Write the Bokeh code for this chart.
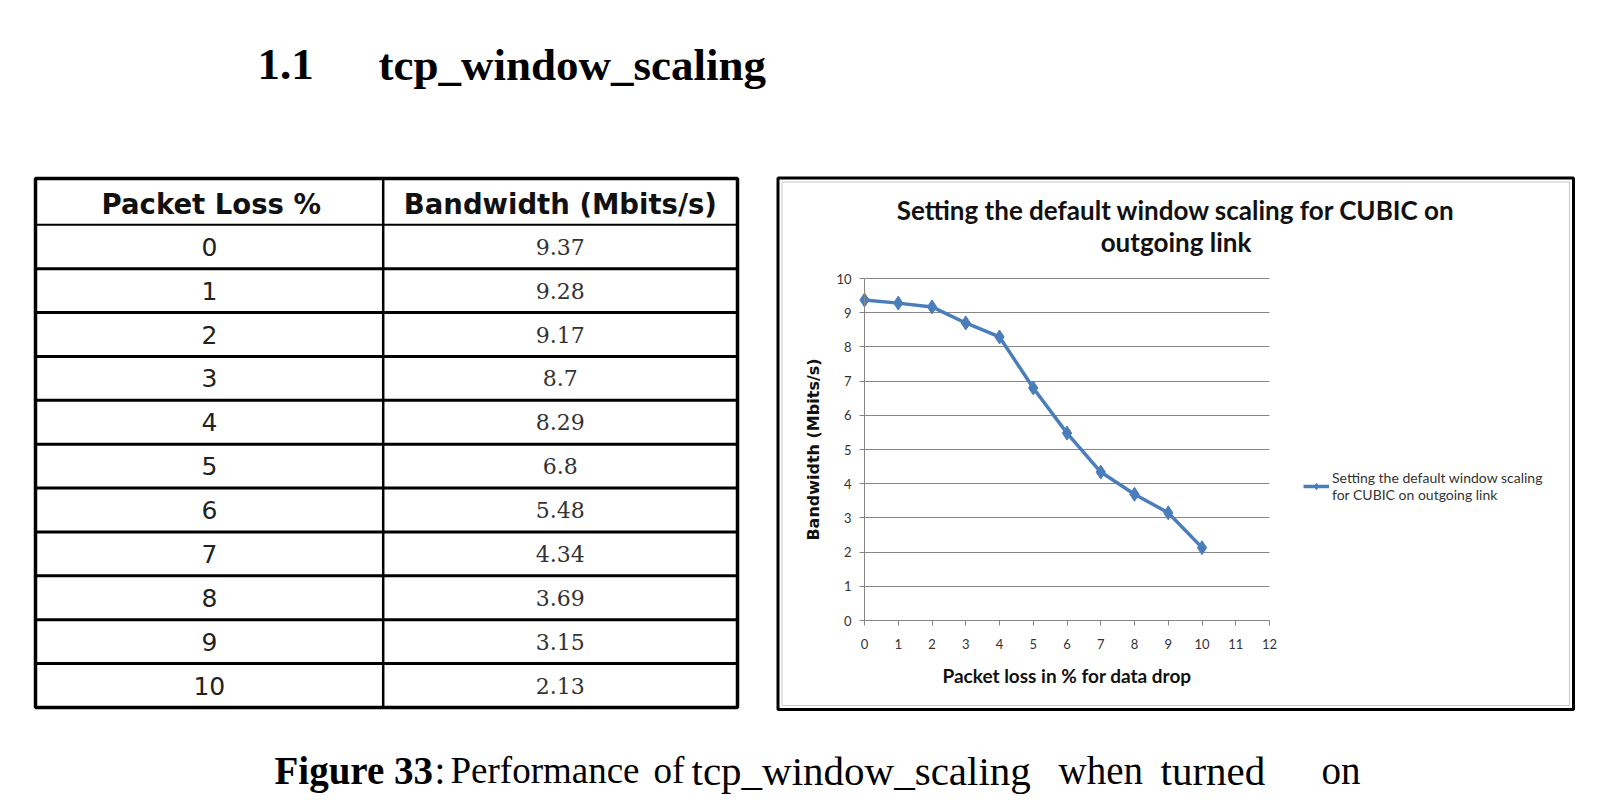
from bokeh.plotting import figure
from bokeh.models import Range1d, Legend, LegendItem, FixedTicker
from bokeh.core.properties import value
from bokeh.embed import file_html
from bokeh.resources import INLINE

# ---------------- data ----------------
packet_loss = [0, 1, 2, 3, 4, 5, 6, 7, 8, 9, 10]
bandwidth = [9.37, 9.28, 9.17, 8.7, 8.29, 6.8, 5.48, 4.34, 3.69, 3.15, 2.13]
x_ticks = list(range(0, 13))
y_ticks = list(range(0, 11))
table_headers = ["Packet Loss %", "Bandwidth (Mbits/s)"]
chart_title = ["Setting the default window scaling for CUBIC on", "outgoing link"]
series_name = "Setting the default window scaling\nfor CUBIC on outgoing link"
x_title = "Packet loss in % for data drop"
y_title = "Bandwidth (Mbits/s)"
heading_parts = ["1.1", "tcp_window_scaling"]
caption_words = ["Figure 33", ":", "Performance", "of", "tcp_window_scaling", "when", "turned", "on"]
caption_styles = ["bold", "normal", "normal", "normal", "normal", "normal", "normal", "normal"]

# ---------------- layout (page pixels) ----------------
W, H = 1600, 797
FL, FR, FT, FB = 864, 1269, 278, 620   # chart plotting area in page coords
XMAX, YMAX = x_ticks[-1], y_ticks[-1]
BLUE = "#4a7ebb"
GRID = "#868686"

sx = (FR - FL) / XMAX
sy = (FB - FT) / YMAX
p = figure(width=W, height=H, title=None,
           x_range=Range1d(-FL / sx, XMAX + (W - FR) / sx),
           y_range=Range1d(-(H - FB) / sy, YMAX + FT / sy),
           min_border=0, output_backend="svg", toolbar_location=None)
p.outline_line_color = None
p.background_fill_color = "white"
p.border_fill_color = "white"
p.extra_x_ranges = {"px": Range1d(0, W)}
p.extra_y_ranges = {"px": Range1d(H, 0)}

# ---------------- chart axes ----------------
p.xaxis.ticker = FixedTicker(ticks=x_ticks)
p.yaxis.ticker = FixedTicker(ticks=y_ticks)
p.xaxis.fixed_location = 0
p.yaxis.fixed_location = 0
p.xaxis.bounds = (0, XMAX)
p.yaxis.bounds = (0, YMAX)
for ax in (p.xaxis[0], p.yaxis[0]):
    ax.axis_line_color = GRID
    ax.major_tick_line_color = GRID
    ax.major_tick_out = 5
    ax.major_tick_in = 0
    ax.minor_tick_line_color = None
    ax.major_label_text_font = "Lato"
    ax.major_label_text_font_size = "13px"
    ax.major_label_text_color = "#333333"
p.xaxis.major_label_standoff = 13
p.yaxis.major_label_standoff = 8
p.xaxis.axis_label = x_title
p.xaxis.axis_label_text_font = "Lato"
p.xaxis.axis_label_text_font_style = "bold"
p.xaxis.axis_label_text_font_size = "19px"
p.xaxis.axis_label_text_color = "#111111"
p.xaxis.axis_label_standoff = 12
p.yaxis.axis_label = y_title
p.yaxis.axis_label_text_font = "DejaVu Sans"
p.yaxis.axis_label_text_font_style = "bold"
p.yaxis.axis_label_text_font_size = "16px"
p.yaxis.axis_label_text_color = "#111111"
p.yaxis.axis_label_standoff = 10
p.xgrid.visible = False
yg = p.ygrid[0]
yg.grid_line_color = GRID
yg.grid_line_width = 1
yg.bounds = (0, YMAX)
if "cross_bounds" in yg.properties():
    yg.cross_bounds = (0, XMAX)
else:
    yg.visible = False
    p.segment(x0=[0] * (len(y_ticks) - 1), x1=[XMAX] * (len(y_ticks) - 1),
              y0=y_ticks[1:], y1=y_ticks[1:], line_color=GRID, line_width=1,
              level="underlay")

# ---------------- chart data ----------------
r_line = p.line(packet_loss, bandwidth, line_color=BLUE, line_width=3.5)
r_pts = p.scatter(packet_loss, bandwidth, marker="diamond", size=14,
                  fill_color=BLUE, line_color=BLUE)

legend = Legend(items=[LegendItem(label=series_name, renderers=[r_line, r_pts])],
                location=(1303, H - 503), border_line_color=None, background_fill_alpha=0,
                label_text_font="Lato", label_text_font_size="14px",
                label_text_color="#333333", glyph_width=26, glyph_height=16,
                label_standoff=3, padding=0, margin=0, spacing=0)
p.add_layout(legend)

PX = dict(x_range_name="px", y_range_name="px")

# chart box and title
p.quad(left=[777.5], right=[1573], top=[177.5], bottom=[709], fill_alpha=0,
       line_color="black", line_width=3, **PX)
p.quad(left=[781.5], right=[1569], top=[181.5], bottom=[705], fill_alpha=0,
       line_color="#c8c8c8", line_width=1, **PX)
p.text(x=[1175.5, 1175.5], y=[209, 241], text=chart_title,
       text_font=value("Lato"), text_font_size=value("26px"), text_font_style="bold",
       text_color="#111111", text_align="center", text_baseline="middle", **PX)

# ---------------- heading ----------------
p.text(x=[257, 378], y=[64, 64], text=heading_parts,
       text_font=value("Liberation Serif"), text_font_size=value("45px"),
       text_font_style="bold", text_color="black",
       text_align="left", text_baseline="middle", **PX)

# ---------------- table ----------------
TL, TR, TT, TB = 35, 737, 178, 707
HDR = 224.3
n = len(packet_loss)
ROW_H = (TB - HDR) / n
COL = 382.7
row_lines = [HDR + i * ROW_H for i in range(1, n)]
p.segment(x0=[TL] * len(row_lines), x1=[TR] * len(row_lines), y0=row_lines, y1=row_lines,
          line_color="black", line_width=3, **PX)
p.segment(x0=[TL], x1=[TR], y0=[HDR], y1=[HDR], line_color="black", line_width=2, **PX)
p.segment(x0=[COL], x1=[COL], y0=[TT], y1=[TB], line_color="black", line_width=2.5, **PX)
p.quad(left=[TL], right=[TR], top=[TT], bottom=[TB], fill_alpha=0,
       line_color="black", line_width=3.5, **PX)
c1, c2 = (TL + COL) / 2, (COL + TR) / 2
hy = (TT + HDR) / 2 + 2
p.text(x=[c1 + 2, c2], y=[hy, hy], text=table_headers,
       text_font=value("DejaVu Sans"), text_font_size=value("27.5px"), text_font_style="bold",
       text_color="#111111", text_align="center", text_baseline="middle", **PX)
row_c = [HDR + (i + 0.5) * ROW_H for i in range(n)]
p.text(x=[c1] * n, y=row_c, text=[str(v) for v in packet_loss],
       text_font=value("DejaVu Sans"), text_font_size=value("25px"),
       text_color="#222222", text_align="center", text_baseline="middle", **PX)
p.text(x=[c2] * n, y=row_c, text=[f"{v:g}" for v in bandwidth],
       text_font=value("DejaVu Serif"), text_font_size=value("22px"),
       text_color="#333333", text_align="center", text_baseline="middle", **PX)

# ---------------- caption ----------------
cap_x = [274, 434, 450, 653, 691, 1058, 1160, 1321]
cap_sizes = ["39px", "39px", "37px", "37px", "41px", "39px", "41px", "39px"]
p.text(x=cap_x, y=[770] * len(cap_x), text=caption_words,
       text_font=value("Liberation Serif"), text_font_size=cap_sizes,
       text_font_style=caption_styles, text_color="black",
       text_align="left", text_baseline="middle", **PX)

open("out.html", "w").write(file_html(p, INLINE))
